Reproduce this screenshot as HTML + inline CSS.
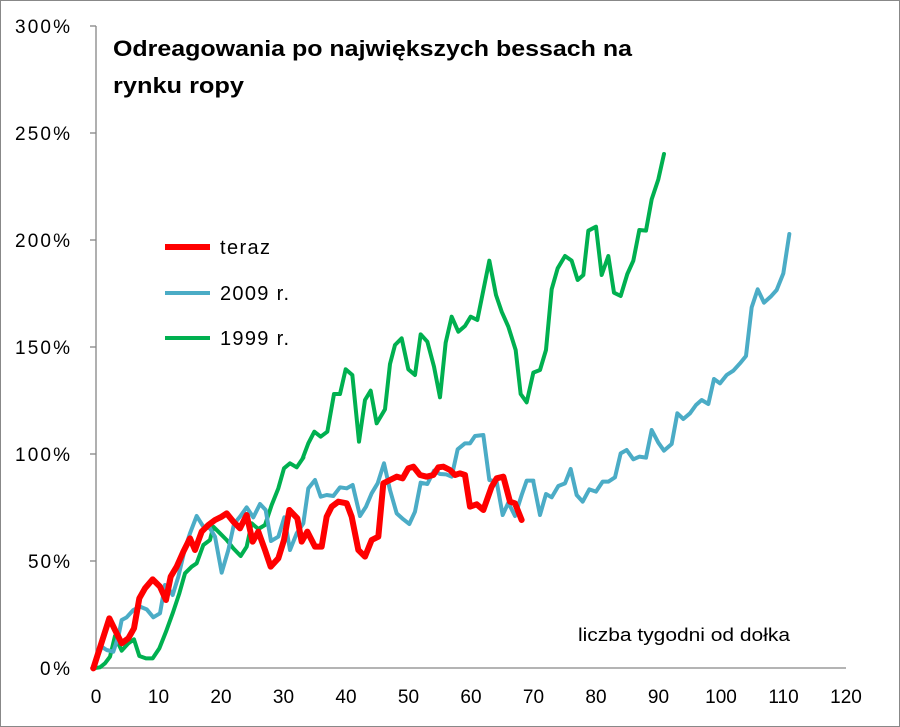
<!DOCTYPE html>
<html><head><meta charset="utf-8"><style>
html,body{margin:0;padding:0;background:#fff}
svg{display:block;font-family:"Liberation Sans",Arial,sans-serif}
</style></head><body>
<svg width="900" height="727" xmlns="http://www.w3.org/2000/svg">
<rect x="0.5" y="0.5" width="899" height="726" fill="#fff" stroke="#888"/>
<g stroke="#868686" stroke-width="1.3" fill="none">
<line x1="96" y1="26" x2="96" y2="668"/>
<line x1="96" y1="668" x2="846" y2="668"/>
<line x1="90" y1="26" x2="96" y2="26"/>
<line x1="90" y1="133" x2="96" y2="133"/>
<line x1="90" y1="240" x2="96" y2="240"/>
<line x1="90" y1="347" x2="96" y2="347"/>
<line x1="90" y1="454" x2="96" y2="454"/>
<line x1="90" y1="561" x2="96" y2="561"/>
<line x1="90" y1="668" x2="96" y2="668"/>
</g>
<g id="tk" stroke="#868686" stroke-width="1"></g>
<script>
(function(){var g=document.getElementById('tk');var s='';for(var i=0;i<=120;i++){var x=96+i*6.25;s+='<line x1="'+x+'" y1="668" x2="'+x+'" y2="674"/>';}g.innerHTML=s;})();
</script>
<g font-size="19" fill="#000" text-anchor="end">
<text x="70" y="33" textLength="55">300%</text>
<text x="70" y="140" textLength="55">250%</text>
<text x="70" y="247" textLength="55">200%</text>
<text x="70" y="354" textLength="55">150%</text>
<text x="70" y="461" textLength="55">100%</text>
<text x="70" y="568" textLength="42">50%</text>
<text x="70" y="675" textLength="30">0%</text>
</g>
<g font-size="19" fill="#000" text-anchor="middle">
<text x="96" y="703">0</text><text x="158.5" y="703">10</text><text x="221" y="703">20</text>
<text x="283.5" y="703">30</text><text x="346" y="703">40</text><text x="408.5" y="703">50</text>
<text x="471" y="703">60</text><text x="533.5" y="703">70</text><text x="596" y="703">80</text>
<text x="658.5" y="703">90</text><text x="721" y="703">100</text><text x="783.5" y="703">110</text>
<text x="846" y="703">120</text>
</g>
<text x="113" y="56" font-size="22" font-weight="bold" textLength="519" lengthAdjust="spacingAndGlyphs">Odreagowania po największych bessach na</text>
<text x="113" y="93" font-size="22" font-weight="bold" textLength="131" lengthAdjust="spacingAndGlyphs">rynku ropy</text>
<text x="578" y="641" font-size="18" textLength="212" lengthAdjust="spacingAndGlyphs">liczba tygodni od dołka</text>
<line x1="165" y1="247" x2="210" y2="247" stroke="#ff0000" stroke-width="6"/>
<line x1="165" y1="293" x2="210" y2="293" stroke="#4bacc6" stroke-width="4"/>
<line x1="165" y1="338" x2="210" y2="338" stroke="#00b050" stroke-width="4"/>
<g font-size="20"><text x="220" y="254" textLength="50">teraz</text><text x="220" y="300" textLength="69">2009 r.</text><text x="220" y="345" textLength="69">1999 r.</text></g>
<g fill="none" stroke-linejoin="round" stroke-linecap="round">
<g transform="translate(80 380) scale(0.33333)">
<polyline stroke="#00b050" stroke-width="12" points="40,865 60,862 75,850 90,830 105,768 125,812 145,790 162,778 178,828 198,835 218,835 238,805 258,755 278,700 298,640 315,580 335,560 350,550 370,495 390,480 400,440 420,460 440,480 460,505 482,528 500,500 515,430 535,447 555,435 575,375 595,325 612,265 630,250 650,262 670,233"/>
<polyline stroke="#4bacc6" stroke-width="12" points="40,865 65,800 80,810 100,815 115,770 125,720 140,712 160,690 180,680 200,688 220,712 240,700 255,615 265,625 278,645 295,590 315,505 330,460 350,408 370,440 390,445 405,470 425,578 445,510 462,432 480,410 500,382 520,412 540,372 557,390 573,483 595,470 613,412 630,510 650,460 670,430 685,325 705,300 722,350 740,345 760,348 780,322 800,325 818,315 840,408 858,380 875,340 893,310 912,250 930,330 950,400 970,418 988,432 1005,395 1022,308 1042,312 1062,272 1080,282 1098,283 1115,290 1133,208 1155,190 1170,190 1185,168 1210,165 1228,300 1250,305 1268,405 1285,368 1305,408 1325,345 1340,302 1360,302"/>
</g>
<g transform="translate(280 140) scale(0.33333)">
<polyline stroke="#00b050" stroke-width="12" points="68,955 85,910 103,875 122,890 142,875 162,762 180,762 197,688 217,705 237,905 255,780 272,752 290,850 315,808 330,672 345,615 365,595 385,688 405,705 422,583 442,605 462,680 480,772 497,608 515,530 535,575 555,558 572,530 592,540 628,362 648,465 665,515 685,560 707,630 722,762 740,787 760,698 780,690 798,630 815,448 833,385 855,348 875,362 893,420 910,405 925,272 948,260 965,405 985,348 1002,458 1022,468 1042,402 1060,362 1078,270 1098,272 1115,178 1135,118 1152,42"/>
</g>
<g transform="translate(520 220) scale(0.33333)">
<polyline stroke="#4bacc6" stroke-width="12" points="40,785 60,885 78,822 95,832 115,798 135,790 152,747 170,825 188,845 208,808 228,815 248,785 265,785 285,772 302,700 320,690 340,718 358,710 378,713 395,630 415,668 432,692 455,672 472,580 490,597 510,580 528,555 545,540 565,552 582,477 600,490 620,465 640,452 660,430 678,408 695,262 713,208 732,248 752,230 770,210 790,160 808,42"/>
</g>
<g transform="translate(80 380) scale(0.33333)">
<polyline stroke="#ff0000" stroke-width="18" points="40,865 88,715 105,750 125,790 145,775 162,745 178,655 195,625 218,598 240,620 258,660 272,590 290,560 310,515 330,475 345,510 365,455 385,435 405,420 425,410 440,400 460,425 480,445 500,405 518,485 535,455 555,510 572,560 595,535 612,480 628,390 652,415 665,485 682,455 705,500 725,500 740,410 755,380 775,365 800,370 815,410 835,510 855,530 875,480 895,470 910,310 930,300 950,290 968,295 985,265 1000,260 1020,285 1040,290 1060,285 1075,262 1090,260 1110,270 1125,285 1140,280 1155,285 1170,380 1190,373 1210,390 1235,320 1250,295 1270,290 1290,365 1305,370 1325,420"/>
</g>
</g>
</svg>
</body></html>
